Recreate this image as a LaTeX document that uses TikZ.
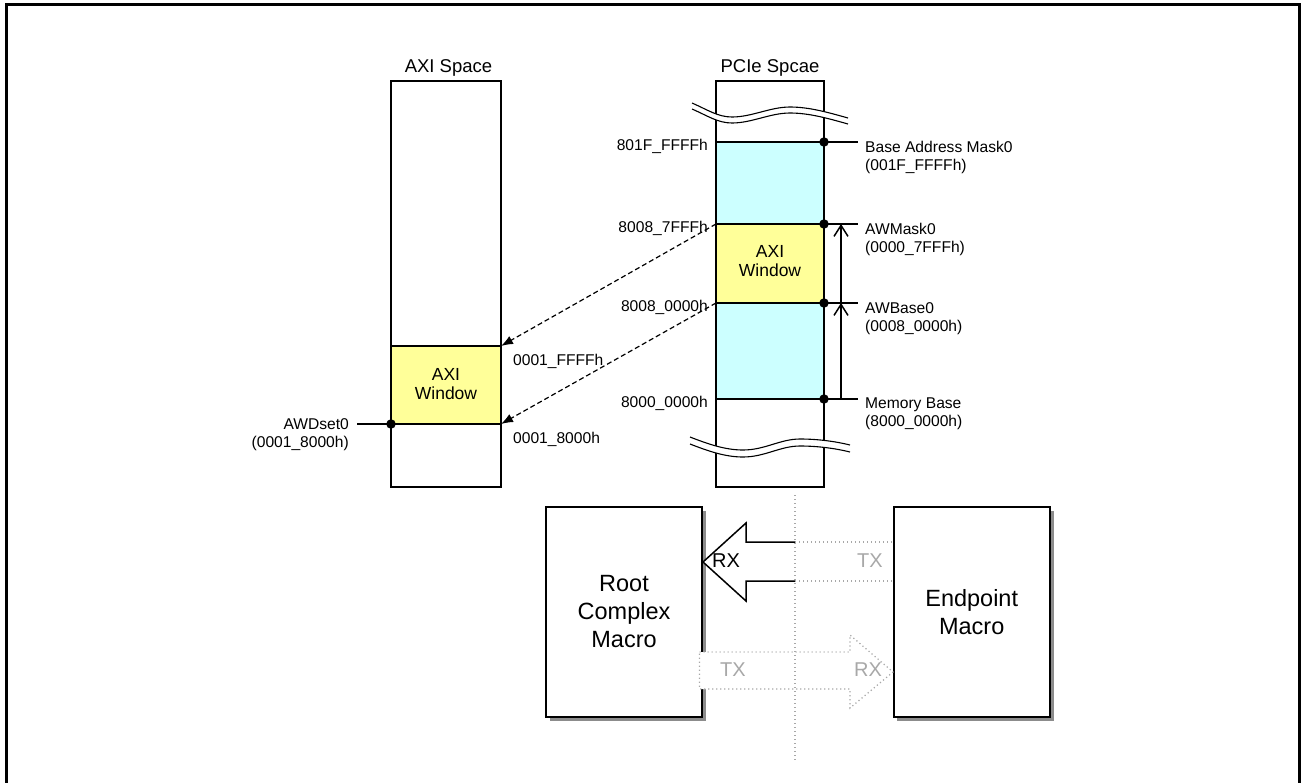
\documentclass[tikz,border=0pt]{standalone}
\usepackage{fontspec}
\setmainfont{Liberation Sans}
\usetikzlibrary{arrows.meta,positioning}
\definecolor{wincyan}{HTML}{CCFFFF}
\definecolor{winyellow}{HTML}{FFFF99}
\definecolor{faint}{HTML}{A8A8A8}
\tikzset{
  % address columns and the marks along them
  column/.style   = {draw=black, line width=1.8pt},
  divider/.style  = {black, line width=1.6pt},
  tap/.style      = {circle, fill=black, inner sep=0pt, minimum size=9.5pt},
  brk/.style      = {black, line width=1.1pt},
  addr/.style     = {font=\fontsize{15.6}{18}\selectfont, inner sep=0pt},
  title/.style    = {font=\fontsize{18.5}{21}\selectfont, inner sep=0pt},
  wintext/.style  = {font=\fontsize{17.5}{19}\selectfont, align=center,
                     inner sep=0pt},
  map/.style      = {dash pattern=on 5pt off 3pt, line width=1.2pt,
                     -{Latex[length=12pt,width=9pt]}},
  span/.style     = {line width=1.5pt,
                     -{Straight Barb[length=11pt,width=14pt]}},
  % the two macros and the lanes between them
  macro/.style    = {draw, line width=2.2pt, fill=white,
                     font=\fontsize{23.5}{28}\selectfont, align=center,
                     minimum width=156pt, minimum height=210pt},
  shade/.style    = {fill=black!45},
  ghost/.style    = {faint, dash pattern=on 1.2pt off 2.8pt, line width=1.2pt},
  lane/.style     = {font=\fontsize{20}{24}\selectfont, inner sep=0pt},
}

\begin{document}
\begin{tikzpicture}[x=1pt, y=-1pt]
    \useasboundingbox (0,0) rectangle (1301,782);
    \draw[line width=3pt] (6.5,790) -- (6.5,4.5) -- (1299.5,4.5) -- (1299.5,790);

    % AXI side
    \fill[white] (391,81) rectangle (501,487);
    \fill[winyellow] (391,346) rectangle (501,424);
    \draw[divider] (391,346) -- (501,346);
    \draw[divider] (357,424) -- (501,424);
    \draw[column] (391,81) rectangle (501,487);
    \node[title, anchor=base] (axititle) at (448.5,72) {AXI Space};
    \node[wintext] (axiwin) at (446,384.5) {AXI\\Window};

    \coordinate (axihi) at (501,346);
    \coordinate (axilo) at (501,424);
    \node[tap] (awdset) at (391,424) {};
    \node[addr, anchor=north east, align=right] (awdsetlbl) at (349,418)
        {AWDset0\\(0001\_8000h)};
    \node[addr, anchor=base west] (axihilbl) at (513,365) {0001\_FFFFh};
    \node[addr, anchor=base west] (axilolbl) at (513,443) {0001\_8000h};

    % PCIe side
    \fill[white] (716,81) rectangle (824,487);
    \fill[wincyan] (716,142) rectangle (824,399);
    \fill[winyellow] (716,224) rectangle (824,303);
    \foreach \y in {142,224,303,399}
        \draw[divider] (716,\y) -- (858,\y);
    \draw[column] (716,81) rectangle (824,487);
    \node[title, anchor=base] (pcietitle) at (770,72) {PCIe Spcae};
    \node[wintext] (pciewin) at (770,261) {AXI\\Window};

    % breaks in the column
    \fill[white] (692,103) .. controls (708,110) and (718,117) .. (732,117)
        .. controls (752,117) and (770,107) .. (790,107)
        .. controls (810,107) and (830,113) .. (848,118) -- (848,124)
        .. controls (830,119) and (810,113) .. (790,113)
        .. controls (770,113) and (752,123) .. (732,123)
        .. controls (718,123) and (708,116) .. (692,109) -- cycle;
    \foreach \d in {0,6}
        \draw[brk, shift={(0,\d)}] (692,103) .. controls (708,110) and (718,117) .. (732,117)
            .. controls (752,117) and (770,107) .. (790,107)
            .. controls (810,107) and (830,113) .. (848,118);
    \fill[white] (690,437) .. controls (708,444) and (725,450) .. (743,450)
        .. controls (765,450) and (780,439) .. (800,439)
        .. controls (820,439) and (838,442) .. (850,445) -- (850,452)
        .. controls (838,449) and (820,446) .. (800,446)
        .. controls (780,446) and (765,457) .. (743,457)
        .. controls (725,457) and (708,451) .. (690,444) -- cycle;
    \foreach \d in {0,7}
        \draw[brk, shift={(0,\d)}] (690,437) .. controls (708,444) and (725,450) .. (743,450)
            .. controls (765,450) and (780,439) .. (800,439)
            .. controls (820,439) and (838,442) .. (850,445);

    \node[tap] (tapmask) at (824,142) {};
    \node[tap] (tapwhi)  at (824,224) {};
    \node[tap] (tapwlo)  at (824,303) {};
    \node[tap] (tapbase) at (824,399) {};

    \node[addr, anchor=base east] (l801f) at (708,150) {801F\_FFFFh};
    \node[addr, anchor=base east] (l8087) at (708,232) {8008\_7FFFh};
    \node[addr, anchor=base east] (l8080) at (708,311) {8008\_0000h};
    \node[addr, anchor=base east] (l8000) at (708,407) {8000\_0000h};

    \node[addr, anchor=north west, align=left] (rmask) at (865,141)
        {Base Address Mask0\\(001F\_FFFFh)};
    \node[addr, anchor=north west, align=left] (rawmask) at (865,223)
        {AWMask0\\(0000\_7FFFh)};
    \node[addr, anchor=north west, align=left] (rawbase) at (865,302)
        {AWBase0\\(0008\_0000h)};
    \node[addr, anchor=north west, align=left] (rmembase) at (865,397.5)
        {Memory Base\\(8000\_0000h)};

    \coordinate (spanhi)  at (841,224);
    \coordinate (spanmid) at (841,303);
    \coordinate (spanlo)  at (841,399);
    \draw[span] (spanlo) -- (spanmid);
    \draw[span] (spanmid) -- (spanhi);

    % window mapping
    \coordinate (pciehi) at (716,224);
    \coordinate (pcielo) at (716,303);
    \draw[map] (pciehi) -- (axihi);
    \draw[map] (pcielo) -- (axilo);

    % macros, each on its own shadow
    \fill[shade] (549.5,510.5) rectangle (705.5,720.5);
    \fill[shade] (897,510.5) rectangle (1053.5,720.5);
    \node[macro] (root)     at (624,612)   {Root\\Complex\\Macro};
    \node[macro] (endpoint) at (971.7,612) {Endpoint\\Macro};

    \draw[line width=1.5pt, fill=white] (795,542) -- (746,542) -- (746,523)
        -- (703,562) -- (746,601) -- (746,581) -- (795,581);
    \draw[ghost] (795,542) -- (893,542);
    \draw[ghost] (795,581) -- (893,581);
    \draw[ghost, fill=white] (699.5,652) -- (850,652) -- (850,635) -- (893,672)
        -- (850,708) -- (850,689) -- (699.5,689) -- cycle;

    \node[lane] (rcrx) at (726,561) {RX};
    \node[lane, faint] (eptx) at (870,561) {TX};
    \node[lane, faint] (rctx) at (733,670) {TX};
    \node[lane, faint] (eprx) at (868,670) {RX};

    \draw[ghost] (795,495) -- (795,762);
\end{tikzpicture}
\end{document}
